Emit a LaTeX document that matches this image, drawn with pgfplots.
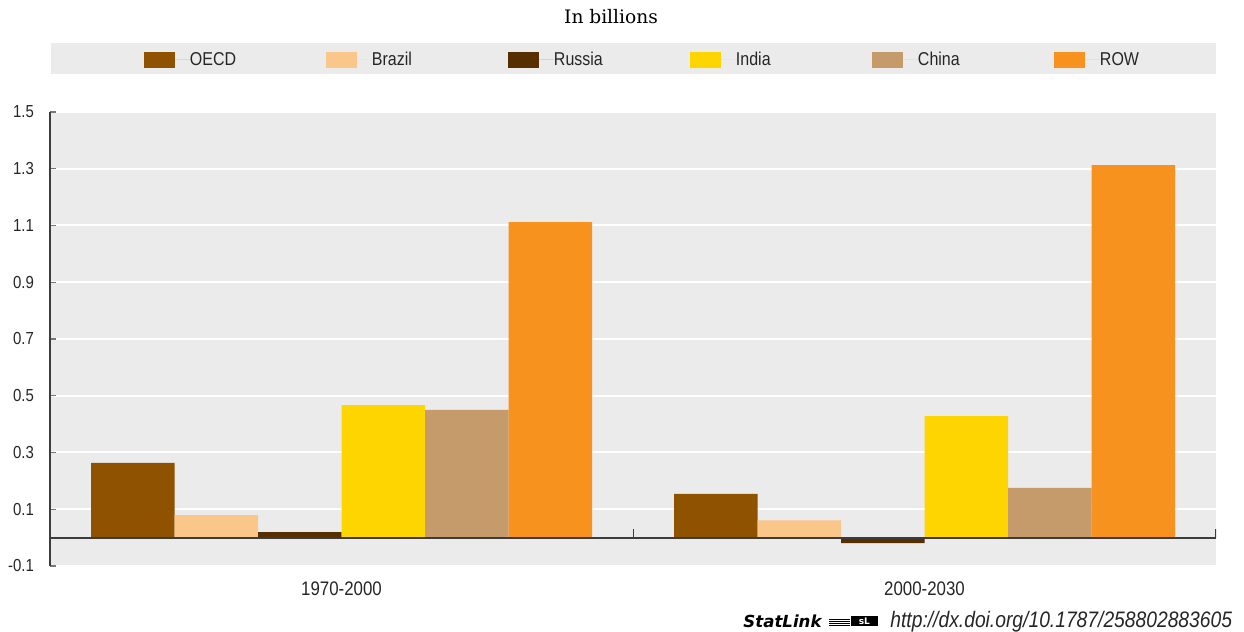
\documentclass[border=0pt]{standalone}
\usepackage{fontspec}
\setmainfont{Liberation Sans}[FakeStretch=0.86]
\newfontfamily\titlefont{DejaVu Serif}
\newfontfamily\slfont{DejaVu Sans}
\newfontfamily\urlfont{Liberation Sans}[FakeStretch=0.86]
\usepackage{pgfplots}
\pgfplotsset{compat=1.18}
\definecolor{oecd}{RGB}{143,83,0}
\definecolor{brazil}{RGB}{251,198,138}
\definecolor{russia}{RGB}{86,46,0}
\definecolor{india}{RGB}{255,213,0}
\definecolor{china}{RGB}{197,155,108}
\definecolor{row}{RGB}{247,146,30}
\definecolor{plotbg}{RGB}{235,235,235}
\definecolor{axisgray}{RGB}{60,60,60}
\pgfplotsset{myleg/.style={legend image code/.code={\fill[##1,draw=none] (0pt,-4pt) rectangle (15.5pt,4pt); \path (15.5pt,0pt) -- (23pt,0pt);}}}
\newcommand{\legent}[2]{\makebox[#1][l]{\raisebox{-0.6pt}{#2}}}
\begin{document}
\begin{tikzpicture}
\path[use as bounding box] (0,0) rectangle (622pt,316pt);
\fill[plotbg] (25.5pt,279pt) rectangle (608pt,294.5pt);
\node[font=\titlefont\fontsize{9.3}{11}\selectfont] at (305.5pt,307.5pt) {In billions};
\begin{axis}[
  at={(25pt,33pt)}, anchor=south west,
  scale only axis, width=583pt, height=227pt,
  xmin=-0.5, xmax=1.5, ymin=-0.1, ymax=1.5,
  xtick={0,1}, xticklabels={1970-2000,2000-2030},
  ytick={-0.1,0.1,0.3,0.5,0.7,0.9,1.1,1.3,1.5},
  yticklabels={-0.1,0.1,0.3,0.5,0.7,0.9,1.1,1.3,1.5},
  /pgf/number format/assume math mode=true,
  yticklabel style={font=\fontsize{8.7}{10}\selectfont, text=black!85, xshift=-4.5pt},
  xticklabel style={font=\fontsize{9.8}{11}\selectfont, text=black!85, yshift=-1.5pt},
  axis background/.style={fill=plotbg},
  ymajorgrids, grid style={white, line width=1pt},
  axis y line*=left, axis x line*=bottom,
  x axis line style={draw=none}, xtick style={draw=none},
  y axis line style={draw=axisgray, line width=0.7pt},
  ytick style={draw=axisgray!70, line width=0.6pt},
  tick align=inside, major tick length=3pt,
  ybar=0pt, bar width=41.75pt,
  legend style={at={(0.0806,1.1156)}, anchor=west, draw=none, fill=none, inner sep=0pt, outer sep=0pt,
    font=\fontsize{9.3}{10}\selectfont, text=black!85,
    nodes={inner sep=0pt}},
  legend columns=6,
  legend cell align=left,
]
\addplot[fill=oecd, draw=none, myleg] coordinates {(0,0.263) (1,0.154)};
\addlegendentry{\legent{68pt}{OECD}}
\addplot[fill=brazil, draw=none, myleg] coordinates {(0,0.079) (1,0.061)};
\addlegendentry{\legent{68pt}{Brazil}}
\addplot[fill=russia, draw=none, myleg] coordinates {(0,0.019) (1,-0.019)};
\addlegendentry{\legent{68pt}{Russia}}
\addplot[fill=india, draw=none, myleg] coordinates {(0,0.467) (1,0.428)};
\addlegendentry{\legent{68pt}{India}}
\addplot[fill=china, draw=none, myleg] coordinates {(0,0.450) (1,0.175)};
\addlegendentry{\legent{68pt}{China}}
\addplot[fill=row, draw=none, myleg] coordinates {(0,1.112) (1,1.313)};
\addlegendentry{\legent{30pt}{ROW}}
\draw[axisgray, line width=1pt] (axis cs:-0.5,0) -- (axis cs:1.5,0);
\draw[axisgray, line width=0.5pt] (axis cs:0.5,0) -- ([yshift=4.5pt]axis cs:0.5,0);
\draw[axisgray, line width=0.6pt] (axis cs:1.5,0) -- ([yshift=4.5pt]axis cs:1.5,0);
\end{axis}
\node[anchor=east, font=\slfont\bfseries\itshape\fontsize{8.3}{9}\selectfont, inner sep=0pt] at (411pt,5.5pt) {StatLink};
\foreach \yy in {3.3,4.3,5.3,6.3} {\draw[black, line width=0.4pt] (414.5pt,\yy pt) -- (425pt,\yy pt);}
\fill[black] (425.5pt,3pt) rectangle (439pt,7.8pt);
\node[font=\slfont\bfseries\fontsize{4.5}{5}\selectfont, text=white, inner sep=0pt] at (432.2pt,5.4pt) {sL};
\node[anchor=west, font=\urlfont\itshape\fontsize{11.2}{13}\selectfont, inner sep=0pt, text=black!85] at (445pt,5.3pt) {http://dx.doi.org/10.1787/258802883605};
\end{tikzpicture}
\end{document}
